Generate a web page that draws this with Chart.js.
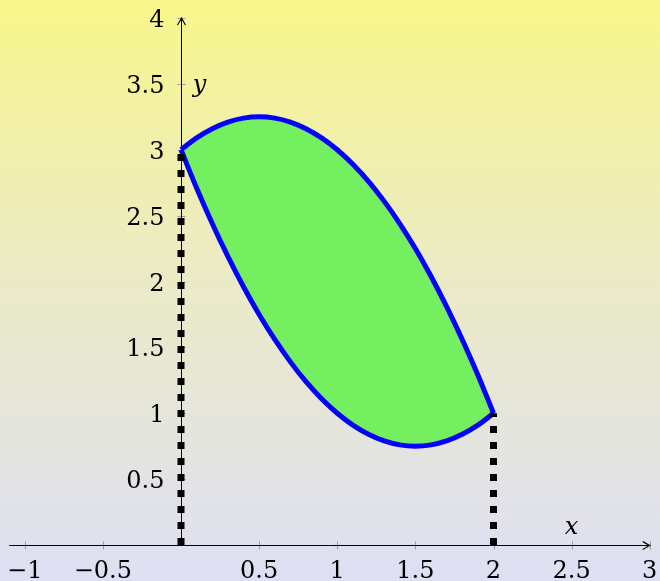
<!DOCTYPE html>
<html>
<head>
<meta charset="utf-8">
<script src="https://cdn.jsdelivr.net/npm/chart.js@4/dist/chart.umd.min.js"></script>
<style>
  html, body { margin: 0; padding: 0; }
  body {
    width: 660px; height: 581px; overflow: hidden;
    background: linear-gradient(to bottom, #f8f68a 0%, #ecebc4 45%, #dedff4 100%);
  }
  #chart { display: block; }
</style>
</head>
<body>
<canvas id="chart" width="660" height="581"></canvas>
<script>
// curve samples
const xs = [0, 0.1, 0.2, 0.3, 0.4, 0.5, 0.6, 0.7, 0.8, 0.9, 1.0,
            1.1, 1.2, 1.3, 1.4, 1.5, 1.6, 1.7, 1.8, 1.9, 2.0];
const upperY = [3, 3.09, 3.16, 3.21, 3.24, 3.25, 3.24, 3.21, 3.16, 3.09, 3.0,
                2.89, 2.76, 2.61, 2.44, 2.25, 2.04, 1.81, 1.56, 1.29, 1.0];
const lowerY = [3, 2.71, 2.44, 2.19, 1.96, 1.75, 1.56, 1.39, 1.24, 1.11, 1.0,
                0.91, 0.84, 0.79, 0.76, 0.75, 0.76, 0.79, 0.84, 0.91, 1.0];

const xTicks = [-1, -0.5, 0.5, 1, 1.5, 2, 2.5, 3];
const yTicks = [0.5, 1, 1.5, 2, 2.5, 3, 3.5, 4];
const xTickLabels = ['\u22121', '\u22120.5', '0.5', '1', '1.5', '2', '2.5', '3'];
const yTickLabels = ['0.5', '1', '1.5', '2', '2.5', '3', '3.5', '4'];

const leftDrop = [{ x: 0, y: 0 }, { x: 0, y: 3 }];
const rightDrop = [{ x: 2, y: 0 }, { x: 2, y: 1 }];

const FONT = '24px "DejaVu Serif", serif';
const ITFONT = 'italic 24px "DejaVu Serif", serif';

function pts(ys) { return xs.map((x, i) => ({ x: x, y: ys[i] })); }

function arrowHead(ctx, x, y, dir) {
  // small stealth-ish arrow pointing right (dir='r') or up (dir='u')
  ctx.save();
  ctx.translate(x, y);
  if (dir === 'u') ctx.rotate(-Math.PI / 2);
  ctx.beginPath();
  ctx.moveTo(-7, -4);
  ctx.quadraticCurveTo(-2, -1, 0, 0);
  ctx.quadraticCurveTo(-2, 1, -7, 4);
  ctx.strokeStyle = '#000';
  ctx.lineWidth = 1.2;
  ctx.stroke();
  ctx.restore();
}

const axesPlugin = {
  id: 'axes',
  beforeDatasetsDraw(chart) {
    const ctx = chart.ctx;
    const sx = chart.scales.x, sy = chart.scales.y;
    const x0 = Math.round(sx.getPixelForValue(0)) + 0.5;
    const y0 = Math.round(sy.getPixelForValue(0)) + 0.5;
    const xEnd = sx.getPixelForValue(3);
    const yEnd = sy.getPixelForValue(4);
    ctx.save();
    // tick marks
    ctx.strokeStyle = '#9a9a9a';
    ctx.lineWidth = 1;
    xTicks.forEach(v => {
      const p = Math.round(sx.getPixelForValue(v)) + 0.5;
      ctx.beginPath(); ctx.moveTo(p, y0 - 4); ctx.lineTo(p, y0 + 4); ctx.stroke();
    });
    yTicks.forEach(v => {
      const p = Math.round(sy.getPixelForValue(v)) + 0.5;
      ctx.beginPath(); ctx.moveTo(x0 - 4, p); ctx.lineTo(x0 + 4, p); ctx.stroke();
    });
    // axis lines
    ctx.strokeStyle = '#000';
    ctx.lineWidth = 1;
    ctx.beginPath();
    ctx.moveTo(sx.getPixelForValue(-1.1), y0); ctx.lineTo(xEnd, y0);
    ctx.moveTo(x0, y0); ctx.lineTo(x0, yEnd);
    ctx.stroke();
    arrowHead(ctx, xEnd, y0, 'r');
    arrowHead(ctx, x0, yEnd, 'u');
    // tick labels
    ctx.fillStyle = '#000';
    ctx.font = FONT;
    ctx.textAlign = 'center';
    ctx.textBaseline = 'alphabetic';
    xTicks.forEach((v, i) => {
      ctx.fillText(xTickLabels[i], sx.getPixelForValue(v), y0 + 32.5);
    });
    ctx.textAlign = 'right';
    yTicks.forEach((v, i) => {
      ctx.fillText(yTickLabels[i], x0 - 17, sy.getPixelForValue(v) + 9);
    });
    // axis names
    ctx.font = ITFONT;
    ctx.textAlign = 'center';
    ctx.fillText('y', x0 + 18, sy.getPixelForValue(3.5) + 8);
    ctx.fillText('x', sx.getPixelForValue(2.5), y0 - 12);
    ctx.restore();
  }
};

new Chart(document.getElementById('chart'), {
  type: 'scatter',
  data: {
    datasets: [
      {
        data: leftDrop, showLine: true, order: 0,
        borderColor: '#000', borderWidth: 7, borderDash: [7, 9],
        pointRadius: 0
      },
      {
        data: rightDrop, showLine: true, order: 0,
        borderColor: '#000', borderWidth: 7, borderDash: [7, 9],
        pointRadius: 0
      },
      {
        data: pts(upperY), showLine: true, order: 2,
        borderColor: '#0000ff', borderWidth: 5, tension: 0.4,
        backgroundColor: '#73ef60', fill: '+1',
        pointRadius: 0
      },
      {
        data: pts(lowerY), showLine: true, order: 1,
        borderColor: '#0000ff', borderWidth: 5, tension: 0.4,
        fill: false, pointRadius: 0
      }
    ]
  },
  options: {
    responsive: false,
    animation: false,
    layout: { padding: 0 },
    plugins: { legend: { display: false }, tooltip: { enabled: false } },
    scales: {
      x: { type: 'linear', display: false, min: -1.1584, max: 3.0656 },
      y: { type: 'linear', display: false, min: -0.2732, max: 4.1366 }
    }
  },
  plugins: [axesPlugin]
});
</script>
</body>
</html>
